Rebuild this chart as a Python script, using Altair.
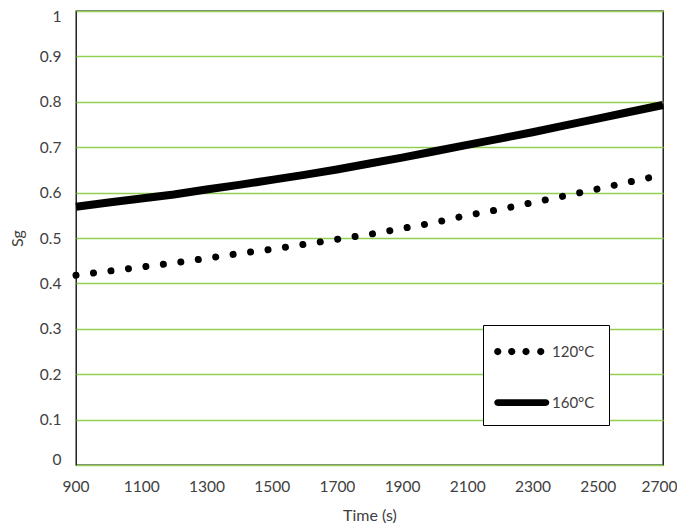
import altair as alt
import pandas as pd

times = [900, 1000, 1100, 1200, 1300, 1400, 1500, 1600, 1700, 1800,
         1900, 2000, 2100, 2200, 2300, 2400, 2500, 2600, 2700]
sg_120 = [0.418, 0.427, 0.436, 0.445, 0.455, 0.466, 0.475, 0.486, 0.497, 0.508,
          0.521, 0.534, 0.550, 0.563, 0.578, 0.593, 0.608, 0.624, 0.639]
sg_160 = [0.569, 0.578, 0.587, 0.596, 0.607, 0.617, 0.628, 0.639, 0.651, 0.664,
          0.677, 0.691, 0.705, 0.719, 0.733, 0.748, 0.763, 0.778, 0.793]
series_names = ["120°C", "160°C"]
x_ticks = [900, 1100, 1300, 1500, 1700, 1900, 2100, 2300, 2500, 2700]
y_ticks = [0, 0.1, 0.2, 0.3, 0.4, 0.5, 0.6, 0.7, 0.8, 0.9, 1]

df = pd.concat([
    pd.DataFrame({"t": times, "sg": sg_120, "series": series_names[0]}),
    pd.DataFrame({"t": times, "sg": sg_160, "series": series_names[1]}),
])

FONT = "Lato"
TXT = "#404040"


def circle(cx, r):
    return f"M {cx - r} 0 A {r} {r} 0 1 0 {cx + r} 0 A {r} {r} 0 1 0 {cx - r} 0 Z "


dots_path = "".join(circle(c, 0.29) for c in [-1.90, -0.78, 0.36, 1.54])
bar_path = ("M -1.91 -0.27 L 1.95 -0.27 A 0.27 0.27 0 0 1 1.95 0.27 "
            "L -1.91 0.27 A 0.27 0.27 0 0 1 -1.91 -0.27 Z")

x_enc = alt.X("t:Q", scale=alt.Scale(domain=[900, 2700], nice=False, zero=False),
              axis=alt.Axis(values=x_ticks, format="d", grid=False, title="Time (s)",
                            labelPadding=14, titlePadding=13, labelFlush=True,
                            labelFlushOffset=14, labelOverlap=False))
y_enc = alt.Y("sg:Q", scale=alt.Scale(domain=[0, 1], nice=False),
              axis=alt.Axis(values=y_ticks, format="~g", grid=True, title="Sg",
                            labelPadding=15, titlePadding=14, labelFlush=True,
                            labelFlushOffset=2, labelOverlap=False))

base = alt.Chart(df)

dotted = base.transform_filter(alt.datum.series == series_names[0]).mark_line(
    color="black", strokeWidth=7, strokeCap="round", strokeDash=[0.01, 17.6]
).encode(x=x_enc, y=y_enc)

solid = base.transform_filter(alt.datum.series == series_names[1]).mark_line(
    color="black", strokeWidth=8, strokeCap="butt"
).encode(x=x_enc, y=y_enc)

legend_layer = base.transform_filter("false").mark_point(
    filled=True, color="black", opacity=1, size=625
).encode(
    x=x_enc, y=y_enc,
    shape=alt.Shape("series:N",
                    scale=alt.Scale(domain=series_names, range=[dots_path, bar_path]),
                    legend=alt.Legend(
                        title=None, orient="none", legendX=407, legendY=314,
                        direction="vertical", strokeColor="black", fillColor="white",
                        padding=14, symbolOffset=12, labelOffset=18, rowPadding=30,
                        symbolSize=625, symbolStrokeWidth=0, symbolFillColor="black",
                        labelFont=FONT, labelFontSize=15, labelColor=TXT)),
)

chart = alt.layer(dotted, solid, legend_layer).properties(
    width=587, height=454,
    autosize=alt.AutoSizeParams(type="none"),
    padding={"left": 68, "top": 3, "right": 14, "bottom": 59},
).configure_view(
    stroke="black", strokeWidth=1.3
).configure_axis(
    domain=False, ticks=False, gridColor="#92D050", gridWidth=1.4,
    labelFont=FONT, labelFontSize=15.5, labelColor=TXT,
    titleFont=FONT, titleFontSize=16, titleFontWeight="normal", titleColor=TXT,
)

chart.save("out.html", embed_options={"renderer": "svg", "actions": False})
